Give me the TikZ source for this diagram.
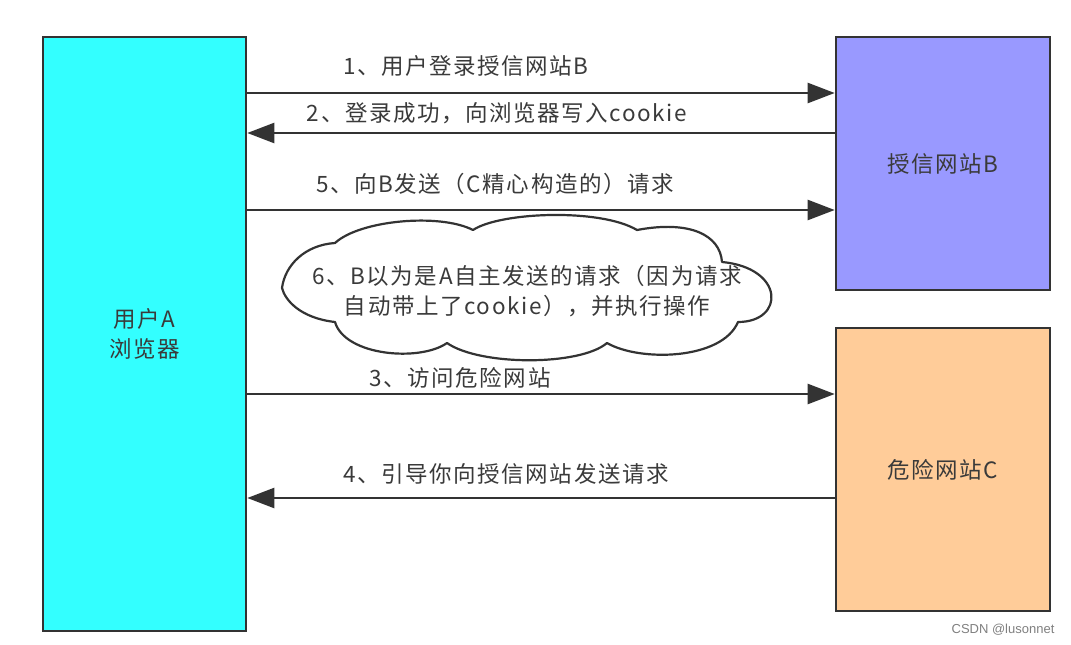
\documentclass[tikz,border=0pt]{standalone}
\usepackage{fontspec}
\setmainfont[LetterSpace=7]{Noto Sans CJK SC}
\newfontfamily\latinsans{Liberation Sans}
\usetikzlibrary{arrows.meta}
\definecolor{linegray}{HTML}{333333}
\definecolor{textgray}{HTML}{3A3A3A}
\definecolor{cyanbox}{HTML}{33FFFF}
\definecolor{bluebox}{HTML}{9999FF}
\definecolor{orangebox}{HTML}{FFCC99}
\begin{document}
\begin{tikzpicture}[x=1pt,y=-1pt,
  box/.style={draw=linegray,line width=2.6pt,inner sep=0pt,text=textgray,font=\fontsize{22.5}{30}\selectfont,align=center},
  conn/.style={draw=linegray,line width=2.4pt,-{Triangle[length=27pt,width=20pt]}},
  lbl/.style={text=textgray,font=\fontsize{22.5}{30}\selectfont,inner sep=0pt,align=center}]
\useasboundingbox[fill=white] (0,0) rectangle (1071,645);
\node[box,fill=cyanbox,minimum width=203pt,minimum height=594pt] (A) at (144.5,334) {用户A\\浏览器};
\node[box,fill=bluebox,minimum width=214pt,minimum height=253pt] (B) at (943,163.5) {授信网站B};
\node[box,fill=orangebox,minimum width=214pt,minimum height=283pt] (C) at (943,469.5) {危险网站C};
% connectors
\coordinate (a1) at (A.east |- 0,93);  \coordinate (b1) at (B.west |- 0,93);
\coordinate (a2) at (A.east |- 0,133); \coordinate (b2) at (B.west |- 0,133);
\coordinate (a5) at (A.east |- 0,210); \coordinate (b5) at (B.west |- 0,210);
\coordinate (a3) at (A.east |- 0,394); \coordinate (c3) at (C.west |- 0,394);
\coordinate (a4) at (A.east |- 0,498); \coordinate (c4) at (C.west |- 0,498);
\draw[conn] (a1) -- (b1);
\draw[conn] (b2) -- (a2);
\draw[conn] (a5) -- (b5);
\draw[conn] (a3) -- (c3);
\draw[conn] (c4) -- (a4);
\node[lbl] (l1) at (466,66) {1、用户登录授信网站B};
\node[lbl] (l2) at (497,113) {2、登录成功，向浏览器写入cookie};
\node[lbl] (l5) at (495,184) {5、向B发送（C精心构造的）请求};
\node[lbl] (l3) at (460,378) {3、访问危险网站};
\node[lbl] (l4) at (506,474) {4、引导你向授信网站发送请求};
% cloud
\draw[draw=linegray,fill=white,line width=2.2pt,line join=round]
  (282,288) .. controls (285,265) and (305,245) .. (335,243)
  .. controls (360,220) and (440,213) .. (473,230)
  .. controls (500,212) and (600,208) .. (637,230)
  .. controls (690,220) and (720,235) .. (722,262)
  .. controls (785,268) and (785,322) .. (738,322)
  .. controls (722,360) and (640,362) .. (607,343)
  .. controls (580,366) and (480,366) .. (447,343)
  .. controls (420,362) and (345,356) .. (335,322)
  .. controls (300,318) and (285,300) .. cycle;
\node[lbl] (l6) at (527,291) {6、B以为是A自主发送的请求（因为请求\\自动带上了cookie），并执行操作};
\node[text=gray,font=\latinsans\fontsize{13}{15}\selectfont,inner sep=0pt] (wm) at (1003,630) {CSDN @lusonnet};
\end{tikzpicture}
\end{document}
